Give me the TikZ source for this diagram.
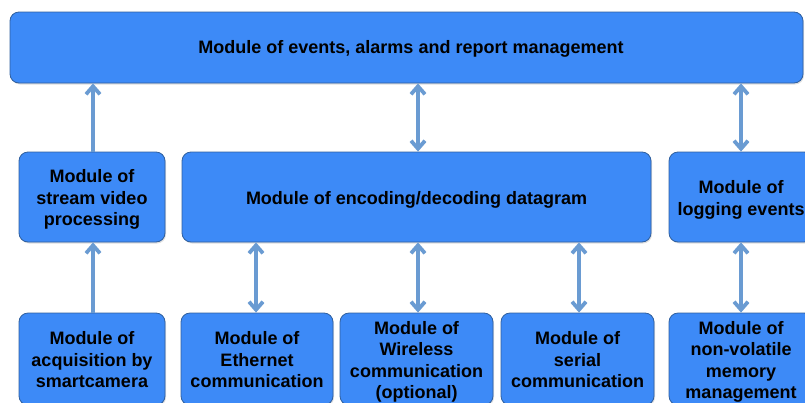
\documentclass[tikz,border=0pt]{standalone}
\usepackage{fontspec}
\setmainfont{Liberation Sans}
\usetikzlibrary{arrows.meta,shadows}
\definecolor{boxfill}{HTML}{3D8AF7}
\definecolor{boxline}{HTML}{2F5F9E}
\definecolor{arrcol}{HTML}{6A9BD2}
\newcommand{\lowered}[1]{\raisebox{-3pt}[\height][\depth]{\begin{tabular}{@{}c@{}}#1\end{tabular}}}
\begin{document}
\begin{tikzpicture}[x=1pt,y=-1pt,
  modbox/.style={draw=boxline,line width=0.8pt,fill=boxfill,rounded corners=9pt,
    inner sep=0pt,align=center,font=\bfseries\fontsize{18}{21.5}\selectfont,
    drop shadow={shadow xshift=1pt,shadow yshift=-1.5pt,opacity=0.25}},
  arr/.style={draw=arrcol,line width=3.8pt,-{Straight Barb[length=8pt,width=14pt]}},
  darr/.style={draw=arrcol,line width=3.8pt,{Straight Barb[length=8pt,width=14pt]}-{Straight Barb[length=8pt,width=14pt]}}]
\useasboundingbox (0,0) rectangle (805,402);
\clip (0,0) rectangle (805,402);
% top
\node[modbox,minimum width=793pt,minimum height=71pt] (top) at (406.5,47.5) {};
\node[font=\bfseries\fontsize{18}{21.5}\selectfont] (toptext) at (411,48.5) {Module of events, alarms and report management};
% middle row
\node[modbox,minimum width=146pt,minimum height=90pt] (stream) at (92,197) {\lowered{Module of\\stream video\\processing}};
\node[modbox,minimum width=469pt,minimum height=90pt] (enc) at (416.5,197) {\lowered{Module of encoding/decoding datagram}};
\node[modbox,minimum width=144pt,minimum height=90pt] (log) at (741,197) {\lowered{Module of\\logging events}};
% bottom row
\node[modbox,minimum width=146pt,minimum height=92pt] (acq) at (92,359) {\lowered{Module of\\acquisition by\\smartcamera}};
\node[modbox,minimum width=152pt,minimum height=92pt] (eth) at (257,359) {\lowered{Module of\\Ethernet\\communication}};
\node[modbox,minimum width=153pt,minimum height=92pt] (wir) at (416.5,359) {\lowered{Module of\\Wireless\\communication\\(optional)}};
\node[modbox,minimum width=153pt,minimum height=92pt] (ser) at (577.5,359) {\lowered{Module of\\serial\\communication}};
\node[modbox,minimum width=144pt,minimum height=92pt] (nvm) at (741,359) {\lowered{Module of\\non-volatile\\memory\\management}};
% connectors
\draw[arr] ([xshift=1pt]stream.north) -- ([xshift=1pt]stream.north |- top.south);
\draw[arr] ([xshift=1pt]acq.north) -- ([xshift=1pt]acq.north |- stream.south);
\draw[darr] ([xshift=1.5pt]top.south -| enc.north) -- ([xshift=1.5pt]enc.north);
\draw[darr] (top.south -| log.north) -- (log.north);
\draw[darr] ([xshift=-1pt]enc.south -| eth.north) -- ([xshift=-1pt]eth.north);
\draw[darr] ([xshift=1.5pt]enc.south -| wir.north) -- ([xshift=1.5pt]wir.north);
\draw[darr] ([xshift=1.5pt]enc.south -| ser.north) -- ([xshift=1.5pt]ser.north);
\draw[darr] (log.south) -- (nvm.north);
\end{tikzpicture}
\end{document}
